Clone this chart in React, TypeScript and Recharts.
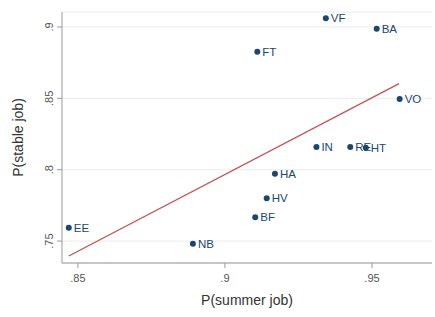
import React from 'react';
import {
  ScatterChart, Scatter, XAxis, YAxis, CartesianGrid, ReferenceLine, LabelList,
} from 'recharts';

// region codes with their probabilities
const codes = ['VF', 'BA', 'FT', 'VO', 'IN', 'RE', 'HT', 'HA', 'HV', 'BF', 'EE', 'NB'];
const summerJob = [0.9343, 0.9516, 0.911, 0.9594, 0.9311, 0.9426, 0.9479, 0.917, 0.9142, 0.9103, 0.8469, 0.8891];
const stableJob = [0.9061, 0.8988, 0.8827, 0.8495, 0.8159, 0.8159, 0.8154, 0.7972, 0.7799, 0.7666, 0.7593, 0.7481];

// linear fit endpoints
const fitX = [0.8469, 0.9592];
const fitY = [0.7395, 0.8603];

const xTicks = [0.85, 0.9, 0.95];
const yTicks = [0.75, 0.8, 0.85, 0.9];

const navy = '#1a476f';
const font = 'Liberation Sans, Arial, sans-serif';
const fmt = (v: number) => String(+v.toFixed(2)).replace(/^0/, '');

const points = codes.map((c, i) => ({ code: c, x: summerJob[i], y: stableJob[i] }));

const YTick = (props: any) => {
  const { x, y, payload } = props;
  return (
    <text x={x - 2} y={y} transform={`rotate(-90 ${x - 2} ${y})`} textAnchor="middle"
      fill="#555" fontSize={11} fontFamily={font}>
      {fmt(payload.value)}
    </text>
  );
};

const XTick = (props: any) => {
  const { x, y, payload } = props;
  return (
    <text x={x} y={y + 12} textAnchor="middle" fill="#555" fontSize={11} fontFamily={font}>
      {fmt(payload.value)}
    </text>
  );
};

const PointLabel = (props: any) => {
  const { x, y, width, height, value } = props;
  const cx = x + width / 2;
  const cy = y + height / 2;
  return (
    <text x={cx + 5} y={cy + 4} fill={navy} fontSize={11.5} fontFamily={font}>{value}</text>
  );
};

export default function App() {
  return (
    <div style={{ position: 'absolute', left: 0, top: 0, background: '#fff' }}>
      <ScatterChart width={435} height={317} margin={{ top: 12, right: 3, left: 12, bottom: 4 }}>
        <CartesianGrid horizontal vertical={false} stroke="#ececec" strokeDasharray="" />
        <XAxis type="number" dataKey="x" domain={[0.8446, 0.9704]} ticks={xTicks}
          allowDataOverflow stroke="#999" tickSize={5} tick={<XTick />} height={50}
          label={{ value: 'P(summer job)', position: 'insideBottom', offset: 8, fill: '#333', fontSize: 14, fontFamily: font }} />
        <YAxis type="number" dataKey="y" domain={[0.7346, 0.9105]} ticks={yTicks}
          allowDataOverflow stroke="#999" tickSize={5} tick={<YTick />} width={50}
          label={{ value: 'P(stable job)', angle: -90, position: 'insideLeft', offset: 0, dx: 6, style: { textAnchor: 'middle' }, fill: '#333', fontSize: 14, fontFamily: font }} />
        <ReferenceLine segment={[{ x: fitX[0], y: fitY[0] }, { x: fitX[1], y: fitY[1] }]}
          stroke="#c44e52" strokeWidth={1.2} ifOverflow="visible" />
        <Scatter data={points} fill={navy} isAnimationActive={false}
          shape={(p: any) => <circle cx={p.cx} cy={p.cy} r={3} fill={navy} />}>
          <LabelList dataKey="code" content={<PointLabel />} />
        </Scatter>
      </ScatterChart>
    </div>
  );
}
